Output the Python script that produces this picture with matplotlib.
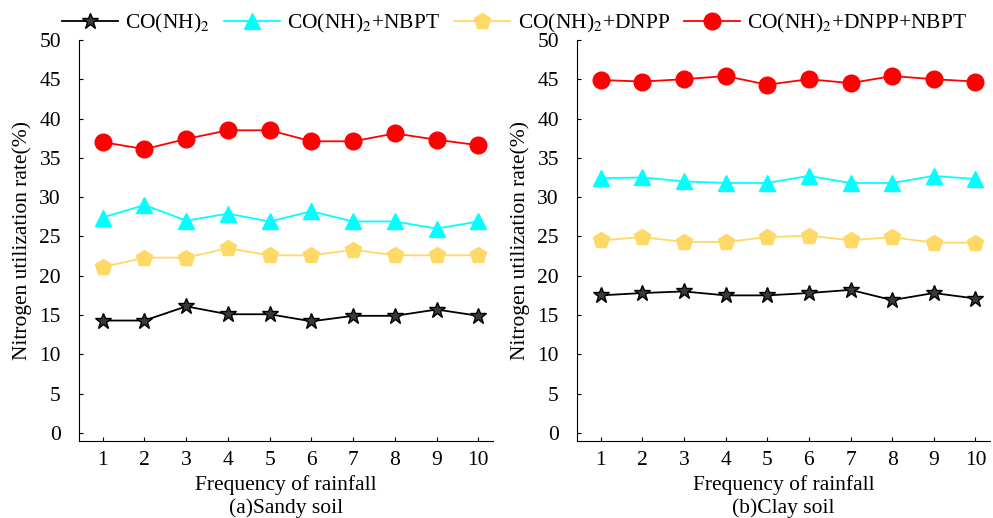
import matplotlib
matplotlib.use("Agg")
import matplotlib.pyplot as plt
import numpy as np

plt.rcParams['font.family'] = ['Liberation Serif', 'DejaVu Serif']
plt.rcParams['mathtext.fontset'] = 'stix'

rain = np.arange(1, 11)

labels = [r'CO(NH)$_2$', r'CO(NH)$_2$+NBPT', r'CO(NH)$_2$+DNPP', r'CO(NH)$_2$+DNPP+NBPT']

# (a) sandy soil
sandy_urea = [14.3, 14.3, 16.1, 15.1, 15.1, 14.2, 14.9, 14.9, 15.7, 14.9]
sandy_nbpt = [27.4, 29.0, 27.0, 27.9, 26.9, 28.2, 26.9, 26.9, 26.0, 26.9]
sandy_dnpp = [21.1, 22.3, 22.3, 23.5, 22.6, 22.6, 23.3, 22.6, 22.6, 22.6]
sandy_both = [37.0, 36.1, 37.4, 38.5, 38.5, 37.1, 37.1, 38.1, 37.3, 36.6]

# (b) clay soil
clay_urea = [17.5, 17.8, 18.0, 17.5, 17.5, 17.8, 18.2, 16.9, 17.8, 17.1]
clay_nbpt = [32.4, 32.5, 32.0, 31.8, 31.8, 32.7, 31.8, 31.8, 32.7, 32.3]
clay_dnpp = [24.5, 24.9, 24.3, 24.3, 24.9, 25.1, 24.5, 24.9, 24.2, 24.2]
clay_both = [44.9, 44.7, 45.0, 45.4, 44.3, 45.0, 44.5, 45.4, 45.0, 44.7]

styles = [
    dict(color='black', marker='*', ms=12, mfc='#3a3a3a', mec='black', mew=1.0),
    dict(color='#00FFFF', marker='^', ms=11, mfc='#00FFFF', mec='#00FFFF'),
    dict(color='#FFD966', marker='p', ms=12, mfc='#FFD966', mec='#FFD966'),
    dict(color='#FF0000', marker='o', ms=12, mfc='#FF0000', mec='#FF0000'),
]

fs = 15.5

fig = plt.figure(figsize=(9.93, 5.18), dpi=100)
ax1 = fig.add_axes([0.0795, 0.149, 0.417, 0.774])
ax2 = fig.add_axes([0.581, 0.149, 0.416, 0.774])

panels = [
    (ax1, [sandy_urea, sandy_nbpt, sandy_dnpp, sandy_both], '(a)Sandy soil'),
    (ax2, [clay_urea, clay_nbpt, clay_dnpp, clay_both], '(b)Clay soil'),
]

for ax, series, title in panels:
    for vals, lab, st in zip(series, labels, styles):
        ax.plot(rain, vals, lw=1.3, label=lab, **st)
    ax.set_xlim(0.43, 10.35)
    ax.set_ylim(-1, 50)
    ax.set_yticks(np.arange(0, 51, 5))
    ax.set_xticks(rain)
    ax.spines['top'].set_visible(False)
    ax.spines['right'].set_visible(False)
    ax.tick_params(direction='in', labelsize=fs, length=3)
    ax.tick_params(axis='y', pad=13)
    ax.tick_params(axis='x', pad=7)
    ax.set_xlabel('Frequency of rainfall\n' + title, fontsize=fs, linespacing=1.2, labelpad=4)
    ax.set_ylabel('Nitrogen utilization rate(%)', fontsize=fs, labelpad=5)

h, l = ax1.get_legend_handles_labels()
fig.legend(h, l, loc='upper center', bbox_to_anchor=(0.518, 1.015), ncol=4,
           frameon=False, fontsize=fs, handlelength=2.6, columnspacing=0.65,
           handletextpad=0.35)

fig.savefig('out.png', dpi=100)
